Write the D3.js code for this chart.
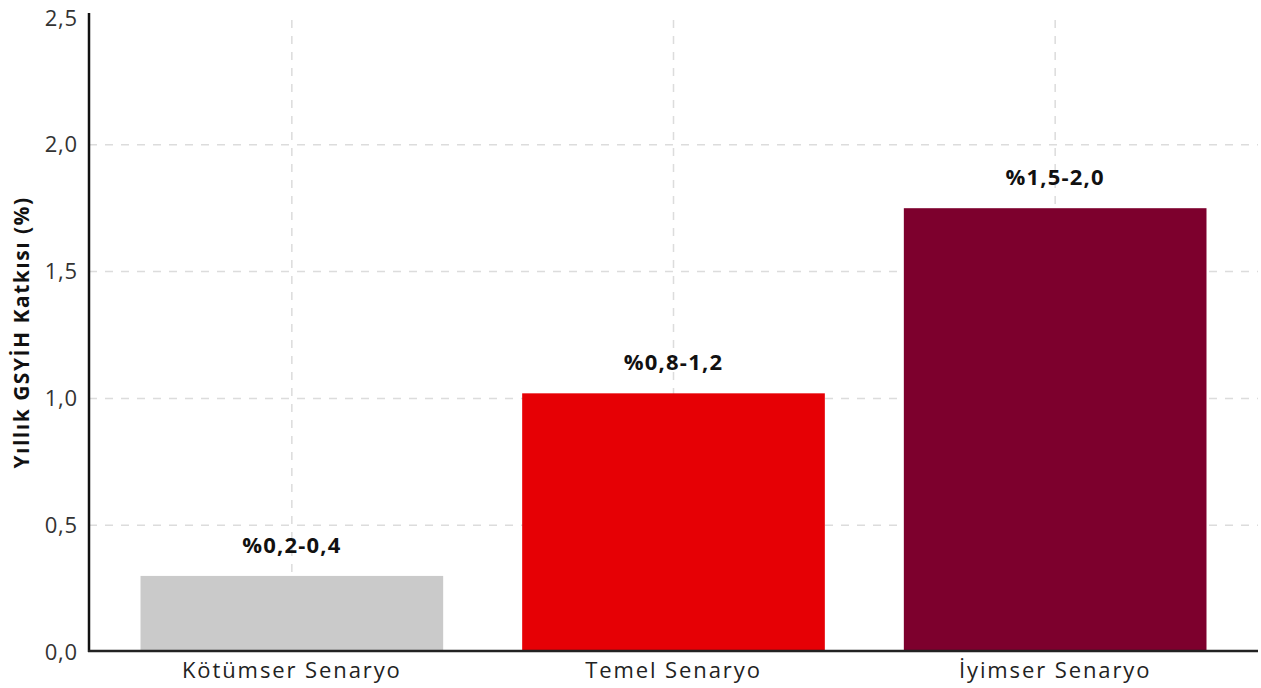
<!DOCTYPE html>
<html>
<head>
<meta charset="utf-8">
<script src="https://cdn.jsdelivr.net/npm/d3@7"></script>
<style>
	body { margin: 0 ; background: #fff ; }
	text { font-family: "Open Sans", "DejaVu Sans", sans-serif ; }
</style>
</head>
<body>
<svg id="chart"></svg>
<script>
// chart values
const scenarios = [ 'Kötümser Senaryo', 'Temel Senaryo', 'İyimser Senaryo' ] ;
const contributions = [ 0.30, 1.02, 1.75 ] ;
const rangeLabels = [ '%0,2-0,4', '%0,8-1,2', '%1,5-2,0' ] ;
const barColors = [ '#cacaca', '#e60005', '#7d002d' ] ;
const yTicks = [ 0, 0.5, 1.0, 1.5, 2.0, 2.5 ] ;
const yTitle = 'Yıllık GSYİH Katkısı (%)' ;

const geom = {
	width: 1261,
	height: 688,
	axisX: 89,
	axisTop: 13,
	axisRight: 1258
} ;

let svg = d3.select( '#chart' )
	.attr( 'width', geom.width )
	.attr( 'height', geom.height ) ;

let x = d3.scaleBand()
	.domain( scenarios )
	.range( [ 101, 1246 ] )
	.paddingInner( 0.207 )
	.paddingOuter( 0.1035 ) ;

let y = d3.scaleLinear()
	.domain( [ 0, 2.5 ] )
	.range( [ 652, 18 ] ) ;

let fmt = v => d3.format( '.1f' )(v).replace( '.', ',' ) ;

// horizontal grid
svg.selectAll( 'line.horizontal' )
	.data( yTicks.filter( d => d > 0 && d < 2.5 ) )
	.enter()
	.append( 'line' )
	.attr( 'class', 'horizontal' )
	.attr( 'x1', geom.axisX )
	.attr( 'x2', geom.axisRight )
	.attr( 'y1', d => y(d) )
	.attr( 'y2', d => y(d) )
	.attr( 'stroke', '#dcdcdc' )
	.attr( 'stroke-width', 1.5 )
	.attr( 'stroke-dasharray', '8 8' ) ;

// vertical grid at category centres
svg.selectAll( 'line.vertical' )
	.data( scenarios )
	.enter()
	.append( 'line' )
	.attr( 'class', 'vertical' )
	.attr( 'x1', d => x(d) + x.bandwidth() / 2 )
	.attr( 'x2', d => x(d) + x.bandwidth() / 2 )
	.attr( 'y1', y(2.5) + 2 )
	.attr( 'y2', y(0) )
	.attr( 'stroke', '#dcdcdc' )
	.attr( 'stroke-width', 1.5 )
	.attr( 'stroke-dasharray', '8 8' ) ;

// bars
svg.selectAll( 'rect.bar' )
	.data( scenarios )
	.enter()
	.append( 'rect' )
	.attr( 'class', 'bar' )
	.attr( 'x', d => x(d) )
	.attr( 'width', x.bandwidth() )
	.attr( 'y', (d, i) => y( contributions[i] ) )
	.attr( 'height', (d, i) => y(0) - y( contributions[i] ) )
	.attr( 'fill', (d, i) => barColors[i] ) ;

// range labels above bars
svg.selectAll( 'text.label' )
	.data( scenarios )
	.enter()
	.append( 'text' )
	.attr( 'class', 'label' )
	.attr( 'x', d => x(d) + x.bandwidth() / 2 )
	.attr( 'y', (d, i) => y( contributions[i] ) - 23 )
	.attr( 'text-anchor', 'middle' )
	.attr( 'font-size', '22px' )
	.attr( 'font-weight', 'bold' )
	.attr( 'letter-spacing', '1.2px' )
	.attr( 'fill', '#111' )
	.text( (d, i) => rangeLabels[i] ) ;

// y axis
let yAxis = svg.append( 'g' )
	.attr( 'transform', 'translate(' + geom.axisX + ' 0)' )
	.call( d3.axisLeft(y).tickValues( yTicks ).tickFormat( fmt ).tickSize( 0 ).tickPadding( 11 ) ) ;
yAxis.select( '.domain' ).remove() ;
yAxis.selectAll( 'text' )
	.attr( 'font-size', '22px' )
	.attr( 'letter-spacing', '0.8px' )
	.attr( 'fill', '#333' )
	.attr( 'font-family', '"Open Sans", sans-serif' ) ;

svg.append( 'line' )
	.attr( 'x1', geom.axisX )
	.attr( 'x2', geom.axisX )
	.attr( 'y1', geom.axisTop )
	.attr( 'y2', y(0) )
	.attr( 'stroke', '#111' )
	.attr( 'stroke-width', 2.5 ) ;

// x axis
let xAxis = svg.append( 'g' )
	.attr( 'transform', 'translate(0 ' + y(0) + ')' )
	.call( d3.axisBottom(x).tickSize( 0 ).tickPadding( 10 ) ) ;
xAxis.select( '.domain' ).remove() ;
xAxis.selectAll( 'text' )
	.attr( 'font-size', '22px' )
	.attr( 'letter-spacing', '1.9px' )
	.attr( 'fill', '#222' )
	.attr( 'font-family', '"Open Sans", sans-serif' ) ;

svg.append( 'line' )
	.attr( 'x1', geom.axisX - 1 )
	.attr( 'x2', geom.axisRight )
	.attr( 'y1', y(0) - 1 )
	.attr( 'y2', y(0) - 1 )
	.attr( 'stroke', '#222' )
	.attr( 'stroke-width', 2.5 ) ;

// y title
svg.append( 'text' )
	.attr( 'transform', 'translate(29 ' + y(1.26) + ') rotate(-90)' )
	.attr( 'text-anchor', 'middle' )
	.attr( 'font-size', '21px' )
	.attr( 'font-weight', 'bold' )
	.attr( 'letter-spacing', '1.5px' )
	.attr( 'fill', '#111' )
	.text( yTitle ) ;
</script>
</body>
</html>
